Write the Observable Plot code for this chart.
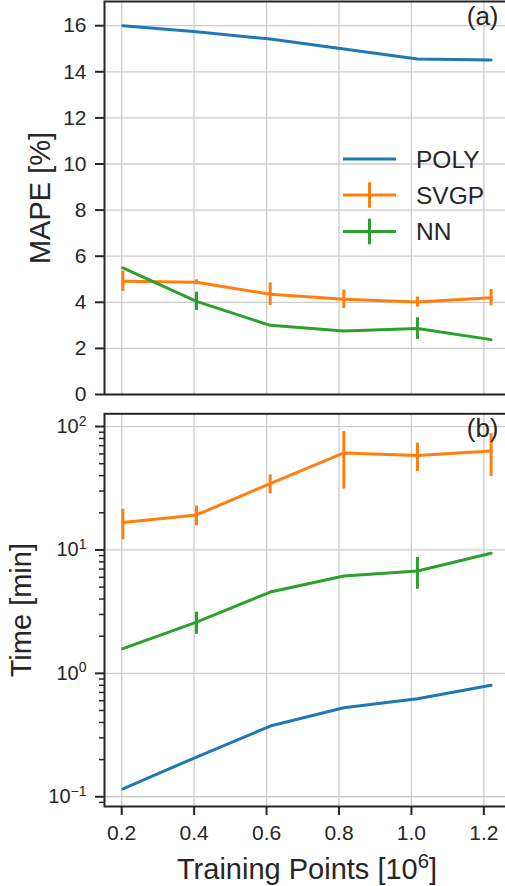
<!DOCTYPE html>
<html>
<head>
<meta charset="utf-8">
<script src="https://cdn.jsdelivr.net/npm/d3@7"></script>
<script src="https://cdn.jsdelivr.net/npm/@observablehq/plot@0.6"></script>
<style>
  html, body { margin: 0; padding: 0; background: white; overflow: hidden; }
  #chart svg { display: block; }
</style>
</head>
<body>
<div id="chart"></div>
<script>
// Training set sizes (millions of points)
const trainingPoints = [0.2033, 0.4066, 0.61, 0.8133, 1.0166, 1.22];
const xTicks = [0.2, 0.4, 0.6, 0.8, 1.0, 1.2];

// Series names and colours
const seriesNames = ["POLY", "SVGP", "NN"];
const seriesColors = ["#1f77b4", "#ff7f0e", "#2ca02c"];

// (a) mean absolute percentage error [%]
const mapePoly = [16.0, 15.74, 15.42, 14.99, 14.56, 14.51];
const mapeSvgp = [4.91, 4.87, 4.35, 4.13, 4.01, 4.20];
const mapeSvgpErr = [0.44, 0.11, 0.49, 0.40, 0.22, 0.36];
const mapeNn = [5.49, 4.04, 3.00, 2.76, 2.86, 2.38];
const mapeNnErr = [0, 0.40, 0, 0, 0.47, 0];
const mapeTicks = [0, 2, 4, 6, 8, 10, 12, 14, 16];

// (b) training time [min]
const timePoly = [0.116, 0.21, 0.374, 0.527, 0.623, 0.80];
const timeSvgp = [16.7, 19.2, 34.5, 61.1, 58.2, 63.4];
const timeSvgpErr = [4.6, 3.5, 6.0, 30, 15, 24];
const timeNn = [1.585, 2.6, 4.56, 6.15, 6.75, 9.4];
const timeNnErr = [0, 0.53, 0, 0, 1.95, 0];
const timeTicks = [0.1, 1, 10, 100];
const timeMinorTicks = [0.09, 0.2, 0.3, 0.4, 0.5, 0.6, 0.7, 0.8, 0.9,
  2, 3, 4, 5, 6, 7, 8, 9, 20, 30, 40, 50, 60, 70, 80, 90];

const fontFamily = '"Liberation Sans", Arial, sans-serif';
const ink = "#262626";
const gridColor = "#cccccc";

function rows(values, errors, name) {
  return trainingPoints.map((x, i) => ({
    x, y: values[i], err: errors ? errors[i] : 0, series: name
  }));
}

const mapeSeries = [
  rows(mapePoly, null, "POLY"),
  rows(mapeSvgp, mapeSvgpErr, "SVGP"),
  rows(mapeNn, mapeNnErr, "NN")
];
const timeSeries = [
  rows(timePoly, null, "POLY"),
  rows(timeSvgp, timeSvgpErr, "SVGP"),
  rows(timeNn, timeNnErr, "NN")
];

// line + vertical error bars for each series, in legend order
function seriesMarks(list) {
  return list.flatMap(data => [
    Plot.line(data, {x: "x", y: "y", stroke: "series", strokeWidth: 3}),
    Plot.ruleX(data.filter(d => d.err > 0), {
      x: "x", y1: d => d.y - d.err, y2: d => d.y + d.err,
      stroke: "series", strokeWidth: 3, strokeLinecap: "butt"
    })
  ]);
}

const common = {
  width: 510,
  marginLeft: 104,
  marginRight: 1,
  style: {fontFamily, color: ink, background: "white", maxWidth: "none"},
  x: {domain: [0.1525, 1.2708]},
  color: {domain: seriesNames, range: seriesColors}
};

const gridStyle = {stroke: gridColor, strokeOpacity: 1, strokeWidth: 1.3};
const axisLabelSize = 29;

const panelA = Plot.plot({
  ...common,
  height: 405,
  marginTop: 1,
  marginBottom: 11,
  x: {...common.x, axis: null},
  y: {domain: [0, 17.05]},
  marks: [
    Plot.gridX(xTicks, gridStyle),
    Plot.gridY(mapeTicks, gridStyle),
    Plot.axisY(mapeTicks, {
      tickSize: 9, tickPadding: 9, fontSize: 21, strokeWidth: 2,
      stroke: ink, label: null
    }),
    ...seriesMarks(mapeSeries),
    Plot.frame({stroke: ink, strokeWidth: 2}),
    Plot.text(["(a)"], {
      frameAnchor: "top-right", textAnchor: "end", lineAnchor: "top",
      dx: -11, dy: 5, fontSize: 26, fill: ink
    }),
    Plot.text(["MAPE [%]"], {
      frameAnchor: "left", textAnchor: "middle", lineAnchor: "middle",
      rotate: -90, dx: -64, fontSize: axisLabelSize, fill: ink
    })
  ]
});

const panelB = Plot.plot({
  ...common,
  height: 481,
  marginTop: 8.3,
  marginBottom: 80,
  y: {type: "log", domain: [0.0834, 126.8]},
  marks: [
    Plot.gridX(xTicks, gridStyle),
    Plot.gridY(timeTicks, gridStyle),
    Plot.axisY(timeMinorTicks, {
      tickSize: 5, strokeWidth: 1.5, stroke: ink, tickFormat: () => "", label: null
    }),
    Plot.axisY(timeTicks, {
      tickSize: 9, tickPadding: 9, fontSize: 20, strokeWidth: 2, stroke: ink,
      tickFormat: d => "10^" + Math.round(Math.log10(d)), label: null
    }),
    Plot.axisX(xTicks, {
      tickSize: 9, tickPadding: 10, fontSize: 21, strokeWidth: 2, stroke: ink,
      tickFormat: d3.format(".1f"), label: null
    }),
    ...seriesMarks(timeSeries),
    Plot.frame({stroke: ink, strokeWidth: 2}),
    Plot.text(["(b)"], {
      frameAnchor: "top-right", textAnchor: "end", lineAnchor: "top",
      dx: -11, dy: 5, fontSize: 26, fill: ink
    }),
    Plot.text(["Time [min]"], {
      frameAnchor: "left", textAnchor: "middle", lineAnchor: "middle",
      rotate: -90, dx: -83, fontSize: axisLabelSize, fill: ink
    }),
    Plot.text(["Training Points [10^6]"], {
      frameAnchor: "bottom", textAnchor: "middle", lineAnchor: "middle",
      dy: 63, fontSize: axisLabelSize, fill: ink
    })
  ]
});

// Turn "a^b" text into a base with a raised, smaller exponent.
function superscripts(svg) {
  d3.select(svg).selectAll("text").each(function() {
    const s = this.textContent;
    const m = s.match(/^(.*)\^(-?\d+)(.*)$/);
    if (!m) return;
    const t = d3.select(this);
    t.text(null);
    t.append("tspan").text(m[1]);
    t.append("tspan")
      .attr("font-size", "70%")
      .attr("dy", "-0.52em")
      .text(m[2].replace("-", "\u2212"));
    if (m[3]) t.append("tspan").attr("dy", "0.364em").text(m[3]);
  });
}
superscripts(panelB);

// Legend drawn inside panel (a)
(function legend(svg) {
  const g = d3.select(svg).append("g")
    .attr("font-family", fontFamily)
    .attr("font-size", 24.5)
    .attr("text-anchor", "start")
    .attr("fill", ink);
  const x0 = 343, x1 = 396, rowY = [159, 195, 231.5], labelX = 416, barHalf = 12.8;
  seriesNames.forEach((name, i) => {
    const y = rowY[i];
    g.append("line")
      .attr("x1", x0).attr("x2", x1).attr("y1", y).attr("y2", y)
      .attr("stroke", seriesColors[i]).attr("stroke-width", 3);
    if (i > 0) {
      const cx = (x0 + x1) / 2;
      g.append("line")
        .attr("x1", cx).attr("x2", cx).attr("y1", y - barHalf).attr("y2", y + barHalf)
        .attr("stroke", seriesColors[i]).attr("stroke-width", 3);
    }
    g.append("text")
      .attr("x", labelX).attr("y", y).attr("dy", "0.36em")
      .text(name);
  });
})(panelA);

const chart = document.getElementById("chart");
chart.append(panelA, panelB);
</script>
</body>
</html>
